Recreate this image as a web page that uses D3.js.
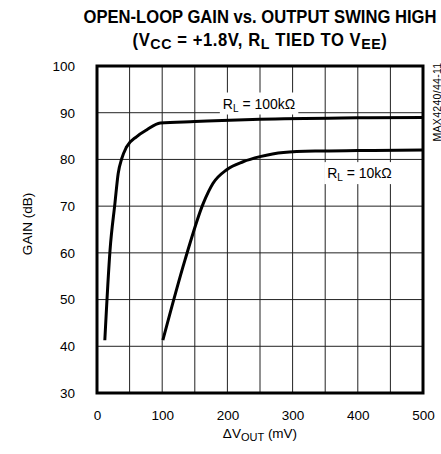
<!DOCTYPE html>
<html>
<head>
<meta charset="utf-8">
<script src="https://cdn.jsdelivr.net/npm/d3@7"></script>
<style>
  body { margin: 0; background: #fff; }
  text { font-family: "Liberation Sans", Arial, sans-serif; fill: #000; }
  .title { font-family: "Liberation Sans", Arial, sans-serif; font-weight: bold; font-size: 17.5px; }
</style>
</head>
<body>
<div id="chart"></div>
<script>
// Data
const xTicks = [0, 100, 200, 300, 400, 500];
const yTicks = [30, 40, 50, 60, 70, 80, 90, 100];
const xGrid = [50, 100, 150, 200, 250, 300, 350, 400, 450];

const x100k = [12, 20, 27.5, 32.5, 38, 45, 61, 76, 97, 150, 250, 400, 500];
const y100k = [41.3, 60.6, 70.6, 77, 80.2, 82.6, 84.9, 86.3, 87.8, 88.1, 88.6, 88.9, 89.0];

const x10k = [101, 135, 163, 178, 199, 224, 250, 286, 337, 400, 500];
const y10k = [41.3, 58.5, 70.6, 74.9, 77.8, 79.5, 80.6, 81.5, 81.8, 81.9, 82.0];

const margin = { top: 66, right: 18, bottom: 61, left: 97 };
const W = 441, H = 454;
const width = W - margin.left - margin.right;
const height = H - margin.top - margin.bottom;

const svg = d3.select("#chart").append("svg")
    .attr("width", W)
    .attr("height", H);

// Title (condensed look via horizontal squeeze)
const titleG = svg.append("g")
    .attr("transform", "translate(260,0) scale(0.95,1)");

titleG.append("text").attr("class", "title")
    .attr("x", 0).attr("y", 23).attr("text-anchor", "middle")
    .text("OPEN-LOOP GAIN vs. OUTPUT SWING HIGH");

const t2 = titleG.append("text").attr("class", "title")
    .attr("x", 0).attr("y", 46).attr("text-anchor", "middle")
    .style("letter-spacing", "0.6px");
t2.append("tspan").text("(V");
t2.append("tspan").attr("dy", 3).attr("font-size", "15px").text("CC");
t2.append("tspan").attr("dy", -3).text(" = +1.8V,  R");
t2.append("tspan").attr("dy", 3).attr("font-size", "15px").text("L");
t2.append("tspan").attr("dy", -3).text(" TIED TO V");
t2.append("tspan").attr("dy", 3).attr("font-size", "15px").text("EE");
t2.append("tspan").attr("dy", -3).text(")");

const g = svg.append("g")
    .attr("transform", `translate(${margin.left},${margin.top})`);

const x = d3.scaleLinear().domain([0, 500]).range([0, width]);
const y = d3.scaleLinear().domain([30, 100]).range([height, 0]);

// Grid
g.selectAll(".vgrid").data(xGrid).enter().append("line")
    .attr("x1", d => x(d)).attr("x2", d => x(d))
    .attr("y1", 0).attr("y2", height)
    .attr("stroke", "#222").attr("stroke-width", 1);

g.selectAll(".hgrid").data(yTicks.slice(1, -1)).enter().append("line")
    .attr("x1", 0).attr("x2", width)
    .attr("y1", d => y(d)).attr("y2", d => y(d))
    .attr("stroke", "#222").attr("stroke-width", 1);

// Axes (tick labels only)
const xAxis = g.append("g")
    .attr("transform", `translate(0,${height})`)
    .call(d3.axisBottom(x).tickValues(xTicks).tickSize(0).tickPadding(17));
const yAxis = g.append("g")
    .call(d3.axisLeft(y).tickValues(yTicks).tickSize(0).tickPadding(22));
[xAxis, yAxis].forEach(a => {
    a.select(".domain").remove();
    a.selectAll("text").style("font-size", "13.5px")
        .style("font-family", "'Liberation Sans', Arial, sans-serif");
});

// Curves
const line = d3.line()
    .x(d => x(d[0])).y(d => y(d[1]))
    .curve(d3.curveMonotoneX);

g.append("path")
    .datum(x100k.map((v, i) => [v, y100k[i]]))
    .attr("d", line)
    .attr("fill", "none").attr("stroke", "#000").attr("stroke-width", 3);

g.append("path")
    .datum(x10k.map((v, i) => [v, y10k[i]]))
    .attr("d", line)
    .attr("fill", "none").attr("stroke", "#000").attr("stroke-width", 3);

// Curve labels with white backing
function label(xv, yv, main, sub, rest) {
    const t = g.append("text")
        .attr("x", x(xv)).attr("y", y(yv))
        .style("font-size", "14px");
    t.append("tspan").text(main);
    t.append("tspan").attr("dy", 3).style("font-size", "10px").text(sub);
    t.append("tspan").attr("dy", -3).text(rest);
    const b = t.node().getBBox();
    g.insert("rect", () => t.node())
        .attr("x", b.x - 3).attr("y", b.y - 3)
        .attr("width", b.width + 6).attr("height", b.height + 4)
        .attr("fill", "#fff");
}
label(193, 90.9, "R", "L", " = 100k\u03A9");
label(353, 76.0, "R", "L", " = 10k\u03A9");

// Frame
g.append("rect")
    .attr("width", width).attr("height", height)
    .attr("fill", "none").attr("stroke", "#000").attr("stroke-width", 3);

// Axis titles
svg.append("text")
    .attr("transform", "translate(31.5,224) rotate(-90)")
    .attr("text-anchor", "middle")
    .style("font-size", "13.5px")
    .text("GAIN (dB)");

const xl = svg.append("text")
    .attr("x", 260).attr("y", 438).attr("text-anchor", "middle")
    .style("font-size", "13.5px");
xl.append("tspan").text("\u0394V");
xl.append("tspan").attr("dy", 3).style("font-size", "11px").text("OUT");
xl.append("tspan").attr("dy", -3).text(" (mV)");

// Part number tag
svg.append("text")
    .attr("transform", "translate(440.5,102) rotate(-90)")
    .attr("text-anchor", "middle")
    .style("font-size", "10.5px")
    .style("letter-spacing", "0.3px")
    .text("MAX4240/44-11");
</script>
</body>
</html>
